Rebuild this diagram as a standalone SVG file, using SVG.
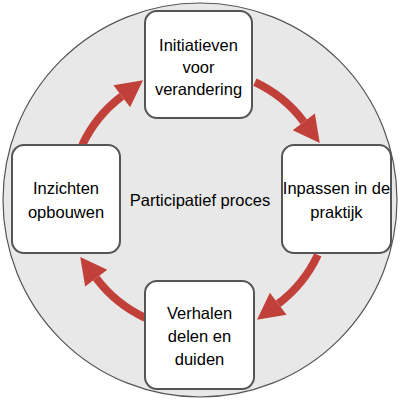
<svg xmlns="http://www.w3.org/2000/svg" width="400" height="400" viewBox="0 0 400 400">
<style>
.box{fill:#fff;stroke:#555;stroke-width:2}
.t{font-family:"Liberation Sans",Arial,sans-serif;font-size:16.5px;fill:#000;text-anchor:middle}
.arc{fill:none;stroke:#c1413a;stroke-width:8}
</style>
<defs>
<marker id="ah" markerUnits="userSpaceOnUse" markerWidth="30" markerHeight="30" viewBox="0 -13 24 26" refX="0" refY="0" orient="auto">
<path d="M0,-12 L23,0 L0,12 Z" fill="#c1413a"/>
</marker>
</defs>
<circle cx="200" cy="200" r="197" fill="#e8e8e8" stroke="#555" stroke-width="1.2"/>
<g id="connectors">
<path class="arc" marker-end="url(#ah)" d="M254.9,82.2 A130,130 0 0 1 303.8,121.8"/>
<path class="arc" marker-end="url(#ah)" d="M317.8,254.9 A130,130 0 0 1 278.2,303.8"/>
<path class="arc" marker-end="url(#ah)" d="M145.1,317.8 A130,130 0 0 1 96.2,278.2"/>
<path class="arc" marker-end="url(#ah)" d="M82.2,145.1 A130,130 0 0 1 121.8,96.2"/>
</g>
<g id="center"><text class="t" x="200" y="206">Participatief proces</text></g>
<g id="n-top">
<rect class="box" x="145" y="11" width="107" height="107" rx="12"/>
<text class="t" x="198.5" y="51">Initiatieven</text>
<text class="t" x="198.5" y="73">voor</text>
<text class="t" x="198.5" y="95">verandering</text>
</g>
<g id="n-right">
<rect class="box" x="282" y="145" width="109" height="108" rx="12"/>
<text class="t" x="336.5" y="194">Inpassen in de</text>
<text class="t" x="336.5" y="218">praktijk</text>
</g>
<g id="n-bottom">
<rect class="box" x="145" y="281" width="109" height="108" rx="12"/>
<text class="t" x="199.5" y="319">Verhalen</text>
<text class="t" x="199.5" y="342">delen en</text>
<text class="t" x="199.5" y="365">duiden</text>
</g>
<g id="n-left">
<rect class="box" x="12" y="145" width="108" height="108" rx="12"/>
<text class="t" x="66" y="194">Inzichten</text>
<text class="t" x="66" y="218">opbouwen</text>
</g>
</svg>
